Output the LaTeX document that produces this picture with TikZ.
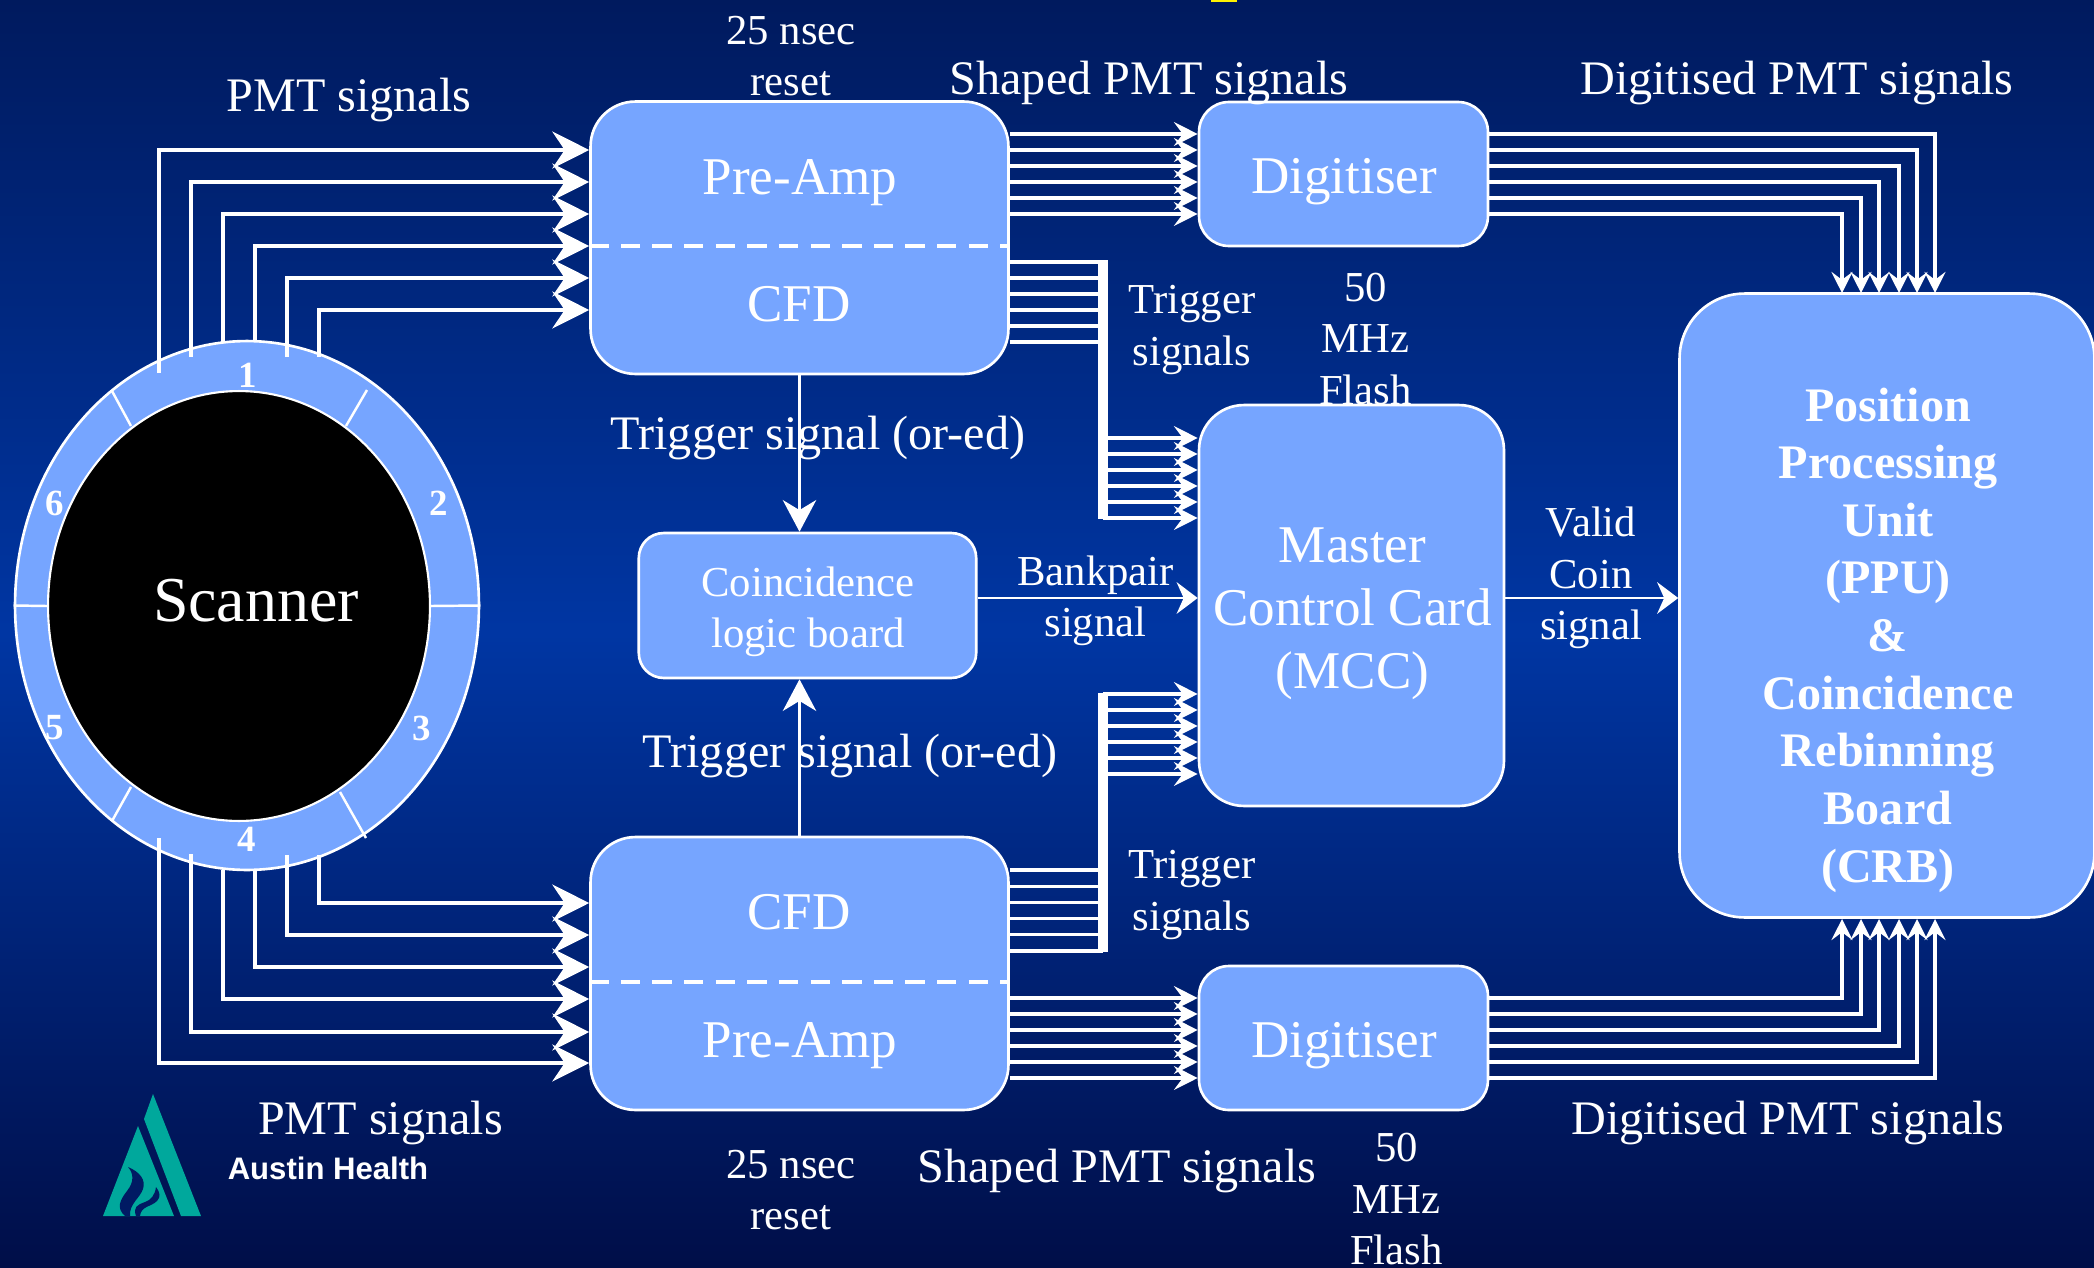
\documentclass[tikz,border=0pt]{standalone}
\usepackage{fontspec}
\setmainfont{Liberation Serif}
\newfontfamily\austinfont{Liberation Sans}
\usetikzlibrary{arrows.meta, shapes.geometric, calc}
\definecolor{boxblue}{HTML}{76A5FF}
\definecolor{logoteal}{HTML}{00A89C}
\definecolor{bgtop}{HTML}{001A5E}
\definecolor{bgmid}{HTML}{0036A3}
\definecolor{bgbot}{HTML}{000E48}

\begin{document}
\begin{tikzpicture}[x=0.02cm, y=-0.02cm, text=white,
    big/.style={font=\fontsize{30.2}{36}\selectfont, align=center},
    med/.style={font=\fontsize{27.4}{32}\selectfont, align=center},
    sml/.style={font=\fontsize{24.3}{29.2}\selectfont, align=center},
    num/.style={font=\fontsize{21}{25}\selectfont\bfseries},
    card/.style={draw=white, line width=1.5pt, fill=boxblue, rounded corners=0.9cm, inner sep=0pt},
    sig/.style={draw=white, line width=1.8pt},
    bigtip/.style={sig, -{Stealth[length=21pt, width=21pt, inset=7pt]}},
    smalltip/.style={sig, -{Stealth[length=13.5pt, width=13.5pt, inset=5pt]}},
    downtip/.style={sig, -{Stealth[length=12pt, width=12pt, inset=4.5pt]}},
    downone/.style={draw=white, line width=1.5pt, -{Stealth[length=18pt, width=19pt, inset=5.7pt]}},
    rightone/.style={draw=white, line width=1.3pt, -{Stealth[length=12pt, width=18pt, inset=4pt]}},
    ringline/.style={draw=white, line width=1.4pt},
    split/.style={draw=white, line width=2.2pt, dash pattern=on 11pt off 7pt}]
  \useasboundingbox (0,0) rectangle (2094,1268);
  \shade[top color=bgtop, bottom color=bgbot, middle color=bgmid] (0,0) rectangle (2094,1268);
  \fill[yellow] (1211,0) rectangle (1237,2);

  % Scanner
  \node[ellipse, draw=white, line width=1.5pt, fill=boxblue, minimum width=9.28cm, minimum height=10.58cm, inner sep=0pt] (ring) at (247,605.5) {};
  \node[ellipse, draw=white, line width=1.2pt, fill=black, minimum width=7.64cm, minimum height=8.6cm, inner sep=0pt] (scanner) at (239,606) {};
  \node[font=\fontsize{36.4}{40}\selectfont] (scannerlabel) at (256,601) {Scanner};
  \draw[ringline] (112,391) -- (131,426);
  \draw[ringline] (367,390) -- (346,426);
  \draw[ringline] (131,787) -- (112,821);
  \draw[ringline] (340,792) -- (366,838);
  \draw[ringline] (ring.west) -- (scanner.west);
  \draw[ringline] (ring.east) -- (scanner.east);
  \node[num] (seg1) at (248,375) {1};
  \node[num] (seg2) at (439,503) {2};
  \node[num] (seg3) at (422,728) {3};
  \node[num] (seg4) at (247,839) {4};
  \node[num] (seg5) at (55,728) {5};
  \node[num] (seg6) at (55,503) {6};

  % Front-end boxes
  \node[card, minimum width=8.36cm, minimum height=5.45cm] (upamp) at (799.5,237.75) {};
  \node[card, minimum width=8.36cm, minimum height=5.46cm] (lowamp) at (799.5,973.5) {};
  \draw[split] (upamp.west |- 0,246) -- (upamp.east |- 0,246);
  \draw[split] (lowamp.west |- 0,982) -- (lowamp.east |- 0,982);
  \node[big] (upre) at (800,183) {Pre-Amp};
  \node[big] (ucfd) at (799,304) {CFD};
  \node[big] (lcfd) at (799,912) {CFD};
  \node[big] (lpre) at (800,1046) {Pre-Amp};

  % Other boxes
  \node[card, rounded corners=0.5cm, minimum width=6.75cm, minimum height=2.9cm] (coin) at (807.5,605.5) {};
  \node[card, rounded corners=0.6cm, minimum width=5.78cm, minimum height=2.88cm] (udig) at (1343.5,174) {};
  \node[card, rounded corners=0.6cm, minimum width=5.78cm, minimum height=2.88cm] (ldig) at (1343.5,1038) {};
  \node[card, minimum width=6.1cm, minimum height=8.02cm] (mcc) at (1351.5,605.5) {};
  \node[card, rounded corners=1.3cm, minimum width=8.3cm, minimum height=12.48cm] (ppu) at (1887,605.5) {};
  \node[sml] (coinlabel) at (808,612) {Coincidence\\logic board};
  \node[big] (udiglabel) at (1344,182) {Digitiser};
  \node[big] (ldiglabel) at (1344,1046) {Digitiser};
  \node[big] (mcclabel) at (1352.5,614) {Master\\Control Card\\(MCC)};
  \node[font=\fontsize{27.4}{32.8}\selectfont\bfseries, align=center] (ppulabel) at (1888,640) {Position\\Processing\\Unit\\(PPU)\\\&\\Coincidence\\Rebinning\\Board\\(CRB)};

  % PMT signals
  \foreach \x/\yu/\su/\yl/\sl in {159/150/373/1063/838, 191/182/357/1032/854, 223/214/342/999/870,
      255/246/342/967/870, 287/278/357/935/855, 319/310/357/903/855} {
    \draw[bigtip] (\x,\su) |- (upamp.west |- 0,\yu);
    \draw[bigtip] (\x,\sl) |- (lowamp.west |- 0,\yl);
  }

  % Shaped and digitised signals
  \foreach \i/\x in {0/1935, 1/1917, 2/1899, 3/1879, 4/1861, 5/1842} {
    \draw[smalltip] (upamp.east |- 0,134+16*\i) -- (udig.west |- 0,134+16*\i);
    \draw[smalltip] (lowamp.east |- 0,998+16*\i) -- (ldig.west |- 0,998+16*\i);
    \draw[downtip] (udig.east |- 0,134+16*\i) -| (\x,293);
    \draw[downtip] (ldig.east |- 0,1078-16*\i) -| (\x,919);
  }

  % Trigger signals
  \draw[sig, line width=6pt] (1103,260) coordinate (ubar) -- (1103,519);
  \draw[sig, line width=6pt] (1103,693) coordinate (lbar) -- (1103,952);
  \foreach \i in {0,...,5} {
    \draw[sig] (upamp.east |- 0,262+16*\i) -- (ubar |- 0,262+16*\i);
    \draw[smalltip] (ubar |- 0,438+16*\i) -- (mcc.west |- 0,438+16*\i);
    \draw[sig] (lowamp.east |- 0,870+16.2*\i) -- (lbar |- 0,870+16.2*\i);
    \draw[smalltip] (lbar |- 0,694+16*\i) -- (mcc.west |- 0,694+16*\i);
  }

  % Single connections
  \draw[downone] (upamp.south) -- (coin.north -| upamp.south);
  \draw[downone] (lowamp.north) -- (coin.south -| lowamp.north);
  \draw[rightone] (coin.east |- 0,598) -- (mcc.west |- 0,598);
  \draw[rightone] (mcc.east |- 0,598) -- (ppu.west |- 0,598);

  % Labels
  \node[med] (pmttop) at (349,99.5) {PMT signals};
  \node[med] (pmtbot) at (380.5,1123) {PMT signals};
  \node[sml] (resettop) at (791,56) {25 nsec\\reset};
  \node[sml] (resetbot) at (791,1190) {25 nsec\\reset};
  \node[med] (shapedtop) at (1149,83) {Shaped PMT signals};
  \node[med] (shapedbot) at (1117,1171) {Shaped PMT signals};
  \node[med] (digtop) at (1797,83) {Digitised PMT signals};
  \node[med] (digbot) at (1788,1123) {Digitised PMT signals};
  \node[med] (ortop) at (818,438) {Trigger signal (or-ed)};
  \node[med] (orbot) at (850,756) {Trigger signal (or-ed)};
  \node[sml] (trigtop) at (1192,330) {Trigger\\signals};
  \node[sml] (trigbot) at (1192,895) {Trigger\\signals};
  \node[sml] (flashtop) at (1365.5,339) {50\\MHz\\Flash};
  \node[sml] (flashbot) at (1396.5,1199) {50\\MHz\\Flash};
  \node[sml] (bankpair) at (1095.5,601) {Bankpair\\signal};
  \node[sml] (validcoin) at (1591,578) {Valid\\Coin\\signal};

  % Logo
  \fill[logoteal] (153,1094) -- (201,1216) -- (181,1216) -- (144,1119) -- cycle;
  \fill[logoteal] (138,1126) -- (174,1216) -- (103,1216) -- cycle;
  \fill[bgbot!70!bgmid] (128,1167) .. controls (140,1172) and (146,1180) .. (143,1189)
    .. controls (140,1198) and (129,1204) .. (130,1216) -- (125,1216)
    .. controls (116,1208) and (120,1200) .. (127,1191)
    .. controls (134,1182) and (134,1174) .. (128,1167) -- cycle;
  \fill[bgbot!70!bgmid] (156,1187) .. controls (160,1192) and (161,1197) .. (157,1201)
    .. controls (151,1207) and (141,1206) .. (140,1216) -- (136,1216)
    .. controls (133,1207) and (137,1205) .. (145,1202)
    .. controls (151,1200) and (155,1195) .. (156,1187) -- cycle;
  \node[font=\austinfont\fontsize{17.7}{20}\selectfont\bfseries] (austin) at (328,1168.5) {Austin Health};
\end{tikzpicture}
\end{document}
